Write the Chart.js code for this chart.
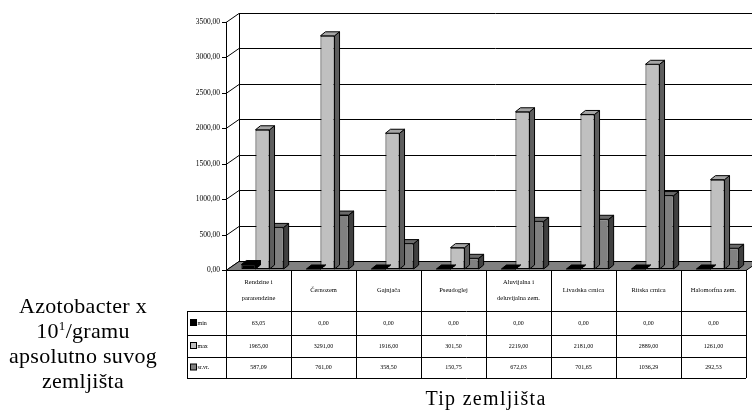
<!DOCTYPE html>
<html>
<head>
<meta charset="utf-8">
<script src="https://cdn.jsdelivr.net/npm/chart.js@4.4.1/dist/chart.umd.min.js"></script>
<style>
  body { margin: 0; background: #fff; }
  #wrap { position: relative; width: 752px; height: 412px; }
  #ytitle {
    position: absolute; left: 0; top: 293px; width: 166px;
    text-align: center; font-family: "Liberation Serif", serif;
    font-size: 22px; line-height: 25px; letter-spacing: 0.3px; color: #000;
  }
  #ytitle sup { font-size: 13px; vertical-align: 8px; line-height: 0; }
  #xtitle {
    position: absolute; left: 226px; top: 387px; width: 520px;
    text-align: center; font-family: "Liberation Serif", serif;
    font-size: 20px; letter-spacing: 1.3px; color: #000;
  }
</style>
</head>
<body>
<div id="wrap">
  <canvas id="chart"></canvas>
  <div id="ytitle">Azotobacter x<br>10<sup>1</sup>/gramu<br>apsolutno suvog<br>zemljišta</div>
  <div id="xtitle">Tip zemljišta</div>
</div>
<script>
const categories = [
  ["Rendzine i", "pararendzine"],
  ["Černozem"],
  ["Gajnjača"],
  ["Pseudoglej"],
  ["Aluvijalna i", "deluvijalna zem."],
  ["Livadska crnica"],
  ["Ritska crnica"],
  ["Halomorfna zem."]
];
const seriesNames = ["min", "max", "sr.vr."];
const minValues = [63.05, 0, 0, 0, 0, 0, 0, 0];
const maxValues = [1965, 3291, 1916, 301.5, 2219, 2181, 2889, 1261];
const avgValues = [587.09, 761, 358.5, 150.75, 672.03, 701.65, 1036.29, 292.53];
const yTicks = [0, 500, 1000, 1500, 2000, 2500, 3000, 3500];

const frontColors = ["#000000", "#c0c0c0", "#808080"];
const topColors = ["#000000", "#a6a6a6", "#6a6a6a"];
const sideColors = ["#000000", "#5e5e5e", "#404040"];

// wall depth, bar depth and bar offset into the floor (pixels)
const wallDx = 13, wallDy = -9;
const barDx = 5, barDy = -4;
const barShiftX = 4, barShiftY = -1;

function fmt(v) {
  return v.toFixed(2).replace(".", ",");
}

function poly(ctx, pts, fill) {
  ctx.beginPath();
  ctx.moveTo(pts[0][0], pts[0][1]);
  for (let i = 1; i < pts.length; i++) ctx.lineTo(pts[i][0], pts[i][1]);
  ctx.closePath();
  if (fill) {
    ctx.fillStyle = fill;
    ctx.fill();
  }
  ctx.stroke();
}

const depthPlugin = {
  id: "depth3d",
  beforeDatasetsDraw(chart) {
    const ctx = chart.ctx;
    const area = chart.chartArea;
    const y = chart.scales.y;
    ctx.save();
    ctx.strokeStyle = "#000";
    ctx.lineWidth = 1;

    // back wall gridlines and left wall diagonals
    yTicks.forEach(v => {
      const py = Math.round(y.getPixelForValue(v)) + 0.5;
      ctx.beginPath();
      ctx.moveTo(area.left, py);
      ctx.lineTo(area.left + wallDx, py + wallDy);
      ctx.lineTo(chart.width, py + wallDy);
      ctx.stroke();
      // tick mark
      ctx.beginPath();
      ctx.moveTo(area.left - 4, py);
      ctx.lineTo(area.left, py);
      ctx.stroke();
      ctx.fillStyle = "#000";
      ctx.font = '7.5px "Liberation Serif"';
      ctx.textAlign = "right";
      ctx.textBaseline = "middle";
      ctx.fillText(fmt(v), area.left - 6, py);
    });

    // back wall left edge + front axis
    ctx.beginPath();
    ctx.moveTo(area.left + wallDx + 0.5, area.top + wallDy);
    ctx.lineTo(area.left + wallDx + 0.5, area.bottom + wallDy);
    ctx.moveTo(area.left + 0.5, area.top);
    ctx.lineTo(area.left + 0.5, area.bottom);
    ctx.stroke();

    // floor
    const b = Math.round(area.bottom) + 0.5;
    poly(ctx, [
      [area.left, b], [area.right, b],
      [area.right + wallDx, b + wallDy], [area.left + wallDx, b + wallDy]
    ], "#808080");
    ctx.restore();
  },
  beforeDatasetDraw(chart) {
    chart.ctx.save();
    chart.ctx.translate(barShiftX, barShiftY);
  },
  afterDatasetDraw(chart, args) {
    const ctx = chart.ctx;
    const i = args.index;
    ctx.save();
    ctx.strokeStyle = "#000";
    ctx.lineWidth = 1;
    args.meta.data.forEach(bar => {
      const l = bar.x - bar.width / 2;
      const r = bar.x + bar.width / 2;
      const t = bar.y;
      const bt = bar.base;
      poly(ctx, [[r, t], [r + barDx, t + barDy], [r + barDx, bt + barDy], [r, bt]], sideColors[i]);
      poly(ctx, [[l, t], [l + barDx, t + barDy], [r + barDx, t + barDy], [r, t]], topColors[i]);
    });
    ctx.restore();
    ctx.restore();
  },
  afterDraw(chart) {
    const ctx = chart.ctx;
    const area = chart.chartArea;
    const x = chart.scales.x;
    const colW = (area.right - area.left) / categories.length;
    const rows = [area.bottom, 311, 335, 357, 378];
    const legendLeft = 187;
    ctx.save();
    ctx.strokeStyle = "#000";
    ctx.lineWidth = 1;
    ctx.fillStyle = "#000";
    ctx.textAlign = "center";
    ctx.textBaseline = "middle";

    // horizontal lines
    for (let r = 0; r < rows.length; r++) {
      const py = Math.round(rows[r]) + 0.5;
      ctx.beginPath();
      ctx.moveTo(r === 0 ? area.left : legendLeft, py);
      ctx.lineTo(area.right, py);
      ctx.stroke();
    }
    // vertical lines
    for (let c = 0; c <= categories.length; c++) {
      const px = Math.round(area.left + c * colW) + 0.5;
      ctx.beginPath();
      ctx.moveTo(px, rows[0]);
      ctx.lineTo(px, rows[4]);
      ctx.stroke();
    }
    ctx.beginPath();
    ctx.moveTo(legendLeft + 0.5, rows[1]);
    ctx.lineTo(legendLeft + 0.5, rows[4]);
    ctx.stroke();

    // header
    ctx.font = '6.5px "Liberation Serif"';
    categories.forEach((lines, c) => {
      const cx = x.getPixelForValue(c);
      const cy = (rows[0] + rows[1]) / 2;
      lines.forEach((s, k) => {
        ctx.fillText(s, cx, cy + (k - (lines.length - 1) / 2) * 16);
      });
    });

    // data rows
    const allValues = [minValues, maxValues, avgValues];
    allValues.forEach((vals, r) => {
      const cy = (rows[r + 1] + rows[r + 2]) / 2;
      ctx.textAlign = "center";
      ctx.font = '6px "Liberation Serif"';
      ctx.fillStyle = "#000";
      vals.forEach((v, c) => {
        ctx.fillText(fmt(v), x.getPixelForValue(c), cy);
      });
      // legend key
      ctx.fillStyle = frontColors[r];
      ctx.fillRect(legendLeft + 3.5, cy - 3.5, 6, 6);
      ctx.strokeRect(legendLeft + 3.5, cy - 3.5, 6, 6);
      ctx.fillStyle = "#000";
      ctx.textAlign = "left";
      ctx.fillText(seriesNames[r], legendLeft + 10.5, cy);
    });
    ctx.restore();
  }
};

new Chart(document.getElementById("chart"), {
  type: "bar",
  data: {
    labels: categories.map(c => c.join(" ")),
    datasets: [
      { label: seriesNames[0], data: minValues, backgroundColor: frontColors[0] },
      { label: seriesNames[1], data: maxValues, backgroundColor: frontColors[1] },
      { label: seriesNames[2], data: avgValues, backgroundColor: frontColors[2] }
    ].map(d => Object.assign(d, {
      borderColor: "#000",
      borderWidth: 1,
      borderSkipped: false,
      categoryPercentage: 0.65,
      barPercentage: 1.0
    }))
  },
  options: {
    responsive: true,
    maintainAspectRatio: false,
    animation: false,
    layout: { padding: { left: 226, right: 6, top: 22, bottom: 142 } },
    scales: {
      x: { display: false },
      y: { display: false, min: 0, max: 3500, ticks: { stepSize: 500 } }
    },
    plugins: {
      legend: { display: false },
      tooltip: { enabled: false }
    }
  },
  plugins: [depthPlugin]
});
</script>
</body>
</html>
